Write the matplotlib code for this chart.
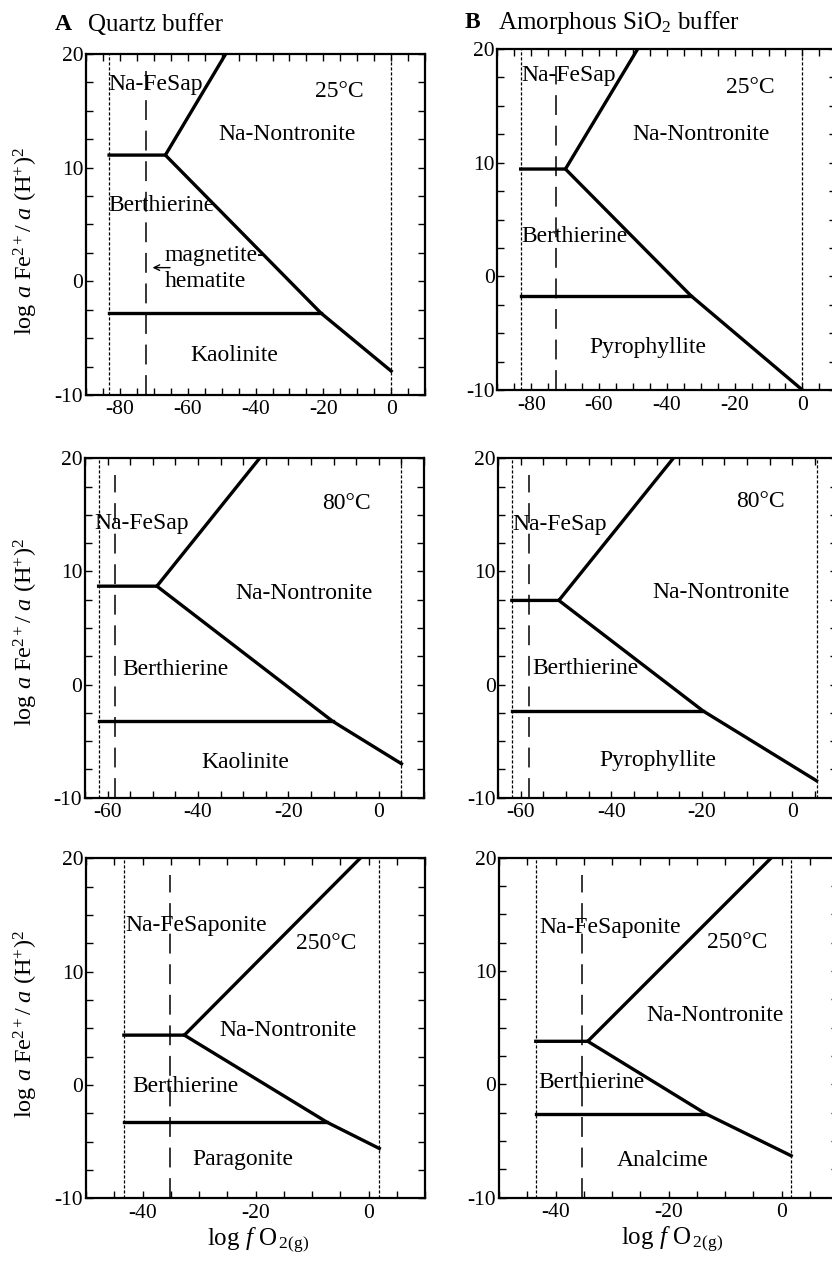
import matplotlib
matplotlib.use("Agg")
import matplotlib.pyplot as plt
from matplotlib.ticker import MultipleLocator

plt.rcParams['font.family'] = ['Liberation Serif', 'DejaVu Serif']
plt.rcParams['mathtext.fontset'] = 'custom'
plt.rcParams['mathtext.rm'] = 'Liberation Serif'
plt.rcParams['mathtext.it'] = 'Liberation Serif:italic'
plt.rcParams['mathtext.bf'] = 'Liberation Serif:bold'
plt.rcParams['axes.unicode_minus'] = False

# one entry per row: 25, 80, 250 degC
temps = ['25°C', '80°C', '250°C']
x_lo = [-90, -65, -50]
x_hi = [10, 10, 10]

# A: quartz buffer
qtz_left = [-83.2, -62.0, -43.3]      # dotted stability limits
qtz_right = [0.0, 5.0, 1.9]
qtz_mh = [-72.2, -58.4, -35.1]        # magnetite-hematite
qtz_tp_x = [-66.6, -49.1, -32.6]      # triple point
qtz_tp_y = [11.1, 8.7, 4.4]
qtz_top_x = [-48.8, -26.4, -1.5]
qtz_kink_x = [-20.7, -10.2, -7.3]
qtz_kink_y = [-2.8, -3.25, -3.3]
qtz_end_y = [-7.9, -7.0, -5.6]
qtz_fields = [['Na-FeSap', 'Berthierine', 'Na-Nontronite', 'Kaolinite'],
              ['Na-FeSap', 'Berthierine', 'Na-Nontronite', 'Kaolinite'],
              ['Na-FeSaponite', 'Berthierine', 'Na-Nontronite', 'Paragonite']]

# B: amorphous SiO2 buffer
am_left = [-83.1, -62.0, -43.5]
am_right = [0.0, 5.4, 1.7]
am_mh = [-72.8, -58.3, -35.3]
am_tp_x = [-69.9, -51.6, -34.3]
am_tp_y = [9.44, 7.44, 3.8]
am_top_x = [-48.6, -26.3, -1.8]
am_kink_x = [-32.9, -19.7, -13.4]
am_kink_y = [-1.7, -2.33, -2.6]
am_end_y = [-10.0, -8.5, -6.3]
am_fields = [['Na-FeSap', 'Berthierine', 'Na-Nontronite', 'Pyrophyllite'],
             ['Na-FeSap', 'Berthierine', 'Na-Nontronite', 'Pyrophyllite'],
             ['Na-FeSaponite', 'Berthierine', 'Na-Nontronite', 'Analcime']]

# where the field names sit (same order as fields, then the temperature)
qtz_label_xy = [[(-69.5, 17.3), (-67.8, 6.7), (-30.6, 12.9), (-46.2, -6.5), (-15.3, 16.7)],
                [(-52.4, 14.2), (-44.9, 1.3), (-16.5, 8.05), (-29.5, -6.85), (-7.2, 16.0)],
                [(-30.5, 14.1), (-32.4, -0.1), (-14.3, 4.8), (-22.2, -6.6), (-7.5, 12.5)]]
am_label_xy = [[(-68.9, 17.7), (-67.2, 3.5), (-29.9, 12.45), (-45.6, -6.3), (-15.4, 16.65)],
               [(-51.5, 14.15), (-45.8, 1.4), (-15.7, 8.1), (-29.7, -6.7), (-6.9, 16.2)],
               [(-30.4, 13.8), (-33.7, 0.2), (-11.7, 6.1), (-21.0, -6.7), (-7.8, 12.5)]]


def panel(ax, i, left, right, mh, tpx, tpy, topx, kx, ky, ey, fields, lxy):
    ax.set_xlim(x_lo[i], x_hi[i])
    ax.set_ylim(-10, 20)
    ax.xaxis.set_major_locator(MultipleLocator(20))
    ax.xaxis.set_minor_locator(MultipleLocator(5))
    ax.yaxis.set_major_locator(MultipleLocator(10))
    ax.yaxis.set_minor_locator(MultipleLocator(2.5))
    ax.tick_params(which='both', direction='in', top=True, right=True,
                   length=5, width=1.0, labelsize=15.5)
    ax.tick_params(axis='x', pad=4)
    ax.tick_params(axis='y', pad=2)
    for s in ax.spines.values():
        s.set_linewidth(1.6)

    dot = dict(color='k', lw=0.9, ls=(0, (2.5, 1.5)))
    ax.plot([left[i], left[i]], [-10, 20], **dot)
    ax.plot([right[i], right[i]], [-10, 20], **dot)
    ax.plot([mh[i], mh[i]], [-10, 18.5], color='k', lw=1.1, ls=(0, (13, 7)))

    solid = dict(color='k', lw=2.4, solid_joinstyle='miter')
    ax.plot([left[i], tpx[i], topx[i]], [tpy[i], tpy[i], 20], **solid)
    ax.plot([tpx[i], kx[i], right[i]], [tpy[i], ky[i], ey[i]], **solid)
    ax.plot([left[i], kx[i]], [ky[i], ky[i]], **solid)

    for name, (x, y) in zip(fields[i], lxy[i][:4]):
        ax.text(x, y, name, ha='center', va='center', fontsize=17)
    tx, ty = lxy[i][4]
    ax.text(tx, ty, temps[i], ha='center', va='center', fontsize=17)


fig = plt.figure(figsize=(8.32, 12.63), dpi=100)

left_pos = [(0.1034, 0.6873), (0.1022, 0.3684), (0.1034, 0.0512)]
right_pos = [(0.5977, 0.6912), (0.5989, 0.3684), (0.5998, 0.0517)]
heights = [0.270, 0.2687, 0.2692]

for i in range(3):
    axa = fig.add_axes([left_pos[i][0], left_pos[i][1], 0.4075, heights[i]])
    panel(axa, i, qtz_left, qtz_right, qtz_mh, qtz_tp_x, qtz_tp_y, qtz_top_x,
          qtz_kink_x, qtz_kink_y, qtz_end_y, qtz_fields, qtz_label_xy)
    axb = fig.add_axes([right_pos[i][0], right_pos[i][1], 0.4075, heights[i]])
    panel(axb, i, am_left, am_right, am_mh, am_tp_x, am_tp_y, am_top_x,
          am_kink_x, am_kink_y, am_end_y, am_fields, am_label_xy)
    if i == 0:
        axa.text(-66.8, 2.3, 'magnetite-', ha='left', va='center', fontsize=17)
        axa.text(-66.8, -0.05, 'hematite', ha='left', va='center', fontsize=17)
        axa.annotate('', xy=(-71.2, 1.2), xytext=(-64.4, 1.2),
                     arrowprops=dict(arrowstyle='->', lw=1.0, color='k'))

# y labels
ylab = r'log $\mathit{a}$ Fe$^{2+}$/ $\mathit{a}$ (H$^{+}$)$^{2}$'
for yc in [241, 632, 1024]:
    fig.text(26 / 832, 1 - yc / 1263, ylab, rotation=90, ha='center', va='center',
             fontsize=17.5)

# x labels
xlab = r'log $\mathit{f}$ O$_{\,2(\mathrm{g})}$'
fig.text(258 / 832, 1 - 1240 / 1263, xlab, ha='center', va='center', fontsize=18)
fig.text(672 / 832, 1 - 1239 / 1263, xlab, ha='center', va='center', fontsize=18)

# column titles
fig.text(55 / 832, 1 - 25 / 1263, 'A', fontweight='bold', ha='left', va='center', fontsize=17)
fig.text(88 / 832, 1 - 25 / 1263, 'Quartz buffer', ha='left', va='center', fontsize=18)
fig.text(465 / 832, 1 - 22 / 1263, 'B', fontweight='bold', ha='left', va='center', fontsize=17)
fig.text(498 / 832, 1 - 22 / 1263, r'Amorphous SiO$_2$ buffer', ha='left', va='center',
         fontsize=18)

fig.savefig('out.png', dpi=100)
